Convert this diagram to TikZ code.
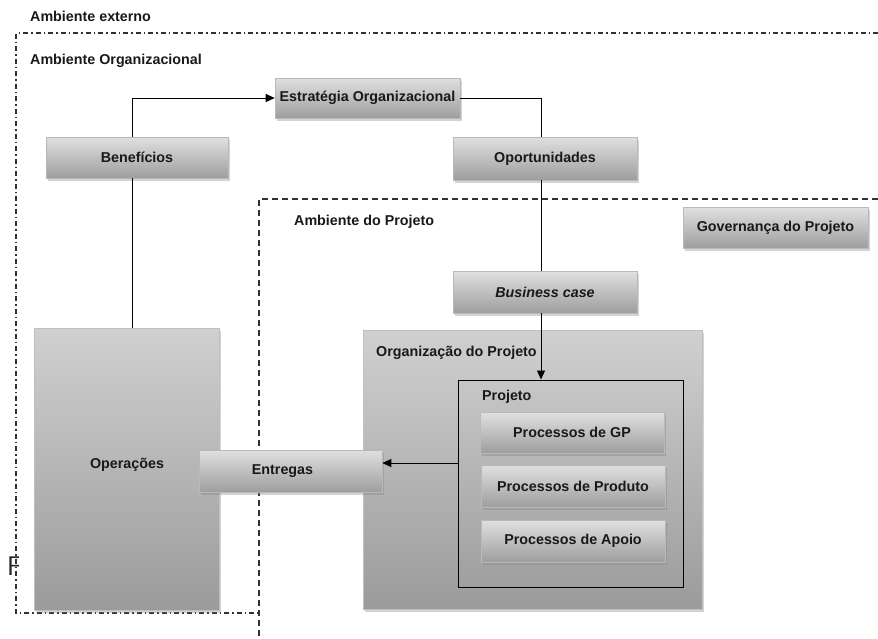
\documentclass[tikz,border=0pt]{standalone}
\usepackage{fontspec}
\setmainfont{Liberation Sans}
\usetikzlibrary{arrows.meta,shadows}

\definecolor{boxtop}{RGB}{224,224,224}
\definecolor{boxbot}{RGB}{158,158,158}
\definecolor{bigtop}{RGB}{208,208,208}
\definecolor{bigbot}{RGB}{155,155,155}
\definecolor{envline}{RGB}{50,50,50}

\tikzset{
  lbl/.style={font=\fontsize{14.3}{17}\selectfont\bfseries, text=black!90},
  bevelbox/.style={lbl, rectangle, top color=boxtop, bottom color=boxbot,
    draw=gray!55, line width=0.6pt, inner sep=0pt,
    drop shadow={shadow xshift=2pt, shadow yshift=-2.5pt, opacity=0.35}},
  bigbox/.style={rectangle, top color=bigtop, bottom color=bigbot,
    draw=gray!50, line width=0.6pt, inner sep=0pt,
    drop shadow={shadow xshift=2pt, shadow yshift=-2.5pt, opacity=0.35}},
  plainlbl/.style={lbl, anchor=west, inner sep=0pt},
  orgenv/.style={envline, line width=1.2pt, dash pattern=on 5pt off 3pt on 1.5pt off 3pt},
  projenv/.style={envline, line width=1.1pt, dash pattern=on 6pt off 4pt},
  link/.style={black, line width=0.9pt},
  linkarrow/.style={link, -{Triangle[length=9pt,width=8pt]}}
}

\begin{document}
\begin{tikzpicture}[x=1pt,y=-1pt]
\useasboundingbox (0,0) rectangle (878,638);

% environment boundaries
\coordinate (oTL) at (16,33);
\coordinate (oTR) at (878,33);
\coordinate (oBL) at (16,613);
\coordinate (oBR) at (258,613);
\draw[orgenv] (oTR) -- (oTL) -- (oBL) -- (oBR);

\coordinate (pTR) at (878,199);
\coordinate (pTL) at (259,199);
\coordinate (pBL) at (259,638);
\draw[projenv] (pTR) -- (pTL) -- (pBL);

% environment titles
\node[plainlbl] (extlbl) at (30,16) {Ambiente externo};
\node[plainlbl] (orglbl) at (30,61) {Ambiente Organizacional};
\node[plainlbl] (projlbl) at (294,222) {Ambiente do Projeto};

% clipped leftover letter
\begin{scope}
  \clip (0,540) rectangle (18.5,590);
  \node[anchor=west, inner sep=0pt, text=black!85,
        font=\fontsize{27}{30}\selectfont\sffamily] (fragF) at (7,566) {F};
\end{scope}

% project organisation
\node[bigbox, minimum width=339pt, minimum height=279pt] (orgproj) at (532.5,469.5) {};
\node[plainlbl] (orgprojlbl) at (376,353) {Organização do Projeto};
\node[draw=black, line width=1pt, minimum width=225pt, minimum height=207pt,
      inner sep=0pt] (projeto) at (570.5,483.5) {};
\node[plainlbl] (projetolbl) at (482,397) {Projeto};

\node[bevelbox, minimum width=184pt, minimum height=41pt] (gp) at (572,432.5) {Processos de GP};
\node[bevelbox, minimum width=184pt, minimum height=42pt] (prod) at (573,486) {Processos de Produto};
\node[bevelbox, minimum width=184pt, minimum height=42pt] (apoio) at (573,541) {Processos de Apoio};

% operations and deliveries
\node[bigbox, minimum width=185pt, minimum height=282pt] (oper) at (126.5,469) {};
\node[lbl] (operlbl) at (127,465) {Operações};
\node[bevelbox, minimum width=183pt, minimum height=42pt] (entregas) at (290.5,471) {\hspace*{-16pt}Entregas};

% strategy chain
\node[bevelbox, minimum width=185pt, minimum height=40pt] (estrat) at (367.5,98) {Estratégia Organizacional};
\node[bevelbox, minimum width=182pt, minimum height=41pt] (benef) at (137,157.5) {Benefícios};
\node[bevelbox, minimum width=184pt, minimum height=43pt] (oport) at (545,158.5) {Oportunidades};
\node[bevelbox, minimum width=185pt, minimum height=41pt] (gov) at (775.5,228) {Governança do Projeto};
\node[bevelbox, minimum width=184pt, minimum height=42pt] (bcase) at (545,292) {\itshape Business case};

% connectors
\draw[linkarrow] (benef.north -| 132,0) |- (estrat.west);
\draw[link] (estrat.east) -| (oport.north -| 541,0);
\draw[link] (oport.south -| 541,0) -- (bcase.north -| 541,0);
\draw[linkarrow] (bcase.south -| 541,0) -- (projeto.north -| 541,0);
\draw[linkarrow] (projeto.west |- 0,463) -- (entregas.east |- 0,463);
\draw[link] (oper.north -| 132,0) -- (benef.south -| 132,0);
\end{tikzpicture}
\end{document}
